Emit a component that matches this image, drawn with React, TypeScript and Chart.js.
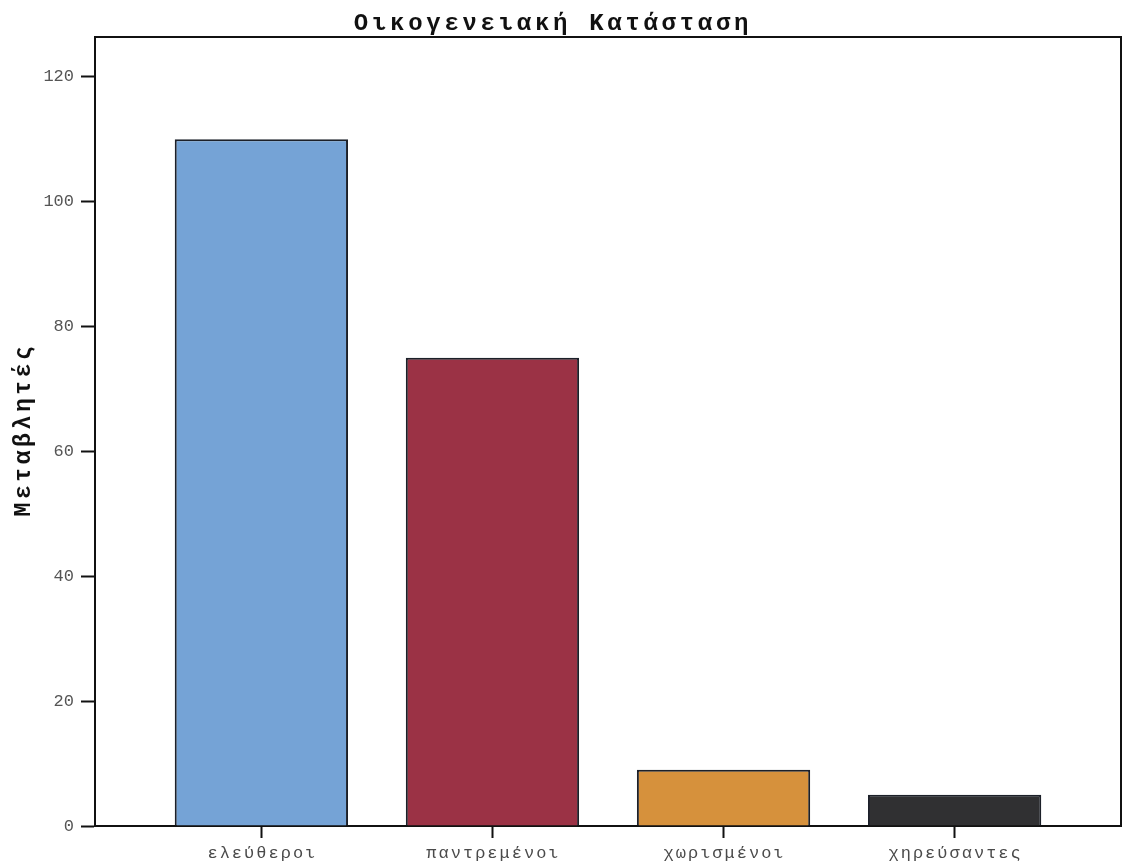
import React, { useEffect, useRef } from "react";
import { Chart, registerables } from "chart.js";

Chart.register(...registerables);

// Marital status counts
const categories = ["ελεύθεροι", "παντρεμένοι", "χωρισμένοι", "χηρεύσαντες"];
const counts = [110, 75, 9, 5];
const barColors = ["#75a3d6", "#9b3245", "#d6913c", "#303032"];
const yTickValues = [0, 20, 40, 60, 80, 100, 120];
const chartTitle = "Οικογενειακή Κατάσταση";
const yAxisTitle = "Μεταβλητές";

const MONO = '"Liberation Mono", "DejaVu Sans Mono", monospace';

// Draws the plot frame, the heading, the rotated axis title and the category labels
const decorations = {
  id: "decorations",
  afterDraw(chart: any) {
    const { ctx, chartArea, scales } = chart;
    ctx.save();

    // top and right sides of the plot frame
    ctx.strokeStyle = "#111";
    ctx.lineWidth = 2;
    ctx.beginPath();
    ctx.moveTo(chartArea.left, chartArea.top);
    ctx.lineTo(chartArea.right, chartArea.top);
    ctx.lineTo(chartArea.right, chartArea.bottom);
    ctx.stroke();

    // heading
    ctx.fillStyle = "#111";
    ctx.font = `bold 24px ${MONO}`;
    (ctx as any).letterSpacing = "3.7px";
    ctx.textAlign = "center";
    ctx.textBaseline = "alphabetic";
    ctx.fillText(chartTitle, 553, 30);

    // y axis title
    ctx.save();
    ctx.translate(24, (chartArea.top + chartArea.bottom) / 2);
    ctx.rotate(-Math.PI / 2);
    ctx.font = `bold 23px ${MONO}`;
    (ctx as any).letterSpacing = "3.6px";
    ctx.textBaseline = "middle";
    ctx.fillText(yAxisTitle, 2, 0);
    ctx.restore();

    // category labels under the tick marks
    ctx.font = `17px ${MONO}`;
    (ctx as any).letterSpacing = "2px";
    ctx.fillStyle = "#4a4a4a";
    ctx.textAlign = "center";
    ctx.textBaseline = "middle";
    categories.forEach((label, i) => {
      const x = scales.x.getPixelForValue(i);
      ctx.fillText(label, x + 1, chartArea.bottom + 27);
    });

    ctx.restore();
  },
};

export default function App() {
  const canvasRef = useRef<HTMLCanvasElement | null>(null);

  useEffect(() => {
    if (!canvasRef.current) return;
    const chart = new Chart(canvasRef.current, {
      type: "bar",
      data: {
        datasets: [
          {
            data: counts.map((v, i) => ({ x: i, y: v })),
            backgroundColor: barColors,
            borderColor: "#1c2029",
            borderWidth: 2,
            barPercentage: 0.75,
            categoryPercentage: 1,
          },
        ],
      },
      options: {
        responsive: false,
        animation: false,
        layout: { padding: { top: 37, right: 4, left: 0, bottom: 0 } },
        plugins: {
          legend: { display: false },
          title: { display: false },
          tooltip: { enabled: false },
        },
        scales: {
          x: {
            type: "linear",
            min: -0.72,
            max: 3.72,
            offset: false,
            afterBuildTicks: (scale: any) => {
              scale.ticks = categories.map((_, i) => ({ value: i }));
            },
            afterFit: (scale: any) => {
              scale.height = 42;
            },
            ticks: { display: false },
            grid: {
              offset: false,
              drawOnChartArea: false,
              drawTicks: true,
              tickLength: 12,
              tickWidth: 2,
              tickColor: "#111",
            },
            border: { display: true, color: "#111", width: 2 },
          },
          y: {
            min: 0,
            max: 126.4,
            afterBuildTicks: (scale: any) => {
              scale.ticks = yTickValues.map((v) => ({ value: v }));
            },
            afterFit: (scale: any) => {
              scale.width = 95;
            },
            ticks: {
              stepSize: 20,
              includeBounds: false,
              color: "#555",
              padding: 7,
              font: { family: MONO, size: 17 },
            },
            grid: {
              drawOnChartArea: false,
              drawTicks: true,
              tickLength: 14,
              tickWidth: 2,
              tickColor: "#111",
            },
            border: { display: true, color: "#111", width: 2 },
          },
        },
      },
      plugins: [decorations],
    });
    return () => chart.destroy();
  }, []);

  return (
    <div
      style={{
        position: "absolute",
        left: 0,
        top: 0,
        width: 1125,
        height: 868,
        background: "#fff",
      }}
    >
      <canvas ref={canvasRef} width={1125} height={868} />
    </div>
  );
}
